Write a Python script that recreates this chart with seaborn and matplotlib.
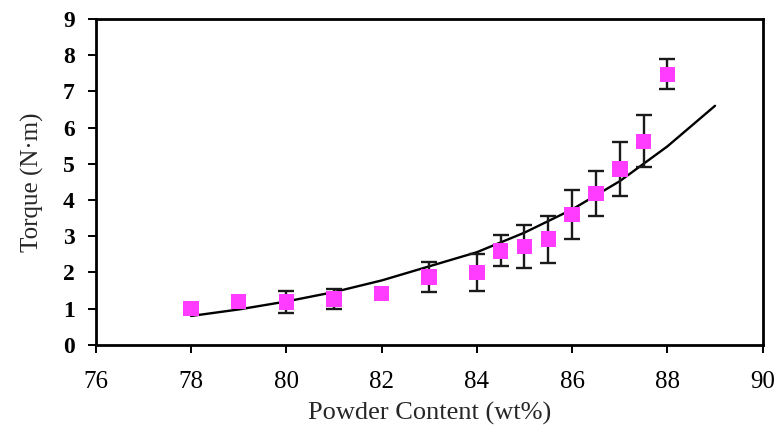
import matplotlib
matplotlib.use("Agg")
import matplotlib.pyplot as plt
import seaborn as sns
import pandas as pd

powder = [78, 79, 80, 81, 82, 83, 84, 84.5, 85, 85.5, 86, 86.5, 87, 87.5, 88]
torque = [1.0, 1.2, 1.18, 1.27, 1.42, 1.87, 2.0, 2.6, 2.72, 2.92, 3.6, 4.18, 4.85, 5.62, 7.47]
torque_err = [0, 0, 0.3, 0.27, 0, 0.42, 0.5, 0.43, 0.6, 0.65, 0.67, 0.62, 0.74, 0.72, 0.42]

# Trend curve
trend_x = [78, 79, 80, 81, 82, 83, 84, 85, 86, 87, 88, 89]
trend_y = [0.8, 0.98, 1.2, 1.46, 1.78, 2.17, 2.56, 3.1, 3.74, 4.52, 5.48, 6.6]

x_ticks = [76, 78, 80, 82, 84, 86, 88, 90]
y_ticks = [0, 1, 2, 3, 4, 5, 6, 7, 8, 9]

sns.set_theme(style="white")
plt.rcParams['font.family'] = ['Liberation Serif', 'DejaVu Serif']

fig = plt.figure(figsize=(7.79, 4.28), dpi=100)
ax = fig.add_axes([0.123, 0.194, 0.856, 0.762])

df = pd.DataFrame({"x": powder, "y": torque, "e": torque_err})
tdf = pd.DataFrame({"x": trend_x, "y": trend_y})

sns.lineplot(data=tdf, x="x", y="y", ax=ax, color="black", linewidth=1.7, zorder=2)

mask = df["e"] > 0
ax.errorbar(df.loc[mask, "x"], df.loc[mask, "y"], yerr=df.loc[mask, "e"], fmt="none",
            ecolor="#1a1a1a", elinewidth=1.7, capsize=6, capthick=1.7, zorder=3)

sns.scatterplot(data=df, x="x", y="y", ax=ax, marker="s", s=125, color="#ff3cff",
                edgecolor="none", linewidth=0, zorder=4)

ax.set_xlim(76, 90)
ax.set_ylim(0, 9)
ax.set_xticks(x_ticks)
ax.set_yticks(y_ticks)
ax.set_xticklabels([str(v) for v in x_ticks], fontsize=18)
ax.set_yticklabels([str(v) for v in y_ticks], fontsize=17, fontweight="bold")
ax.set_xlabel("Powder Content (wt%)", fontsize=19, labelpad=6)
ax.set_ylabel("Torque (N·m)", fontsize=18, labelpad=14)

for s in ax.spines.values():
    s.set_color("black")
    s.set_linewidth(2.0)
    s.set_visible(True)
ax.tick_params(axis="both", direction="out", length=6, width=1.4, color="black",
               labelcolor="black", bottom=True, left=True, top=False, right=False)
ax.tick_params(axis="x", pad=13)
ax.tick_params(axis="y", pad=9)
ax.grid(False)

fig.savefig("out.png", dpi=100, facecolor="white")
